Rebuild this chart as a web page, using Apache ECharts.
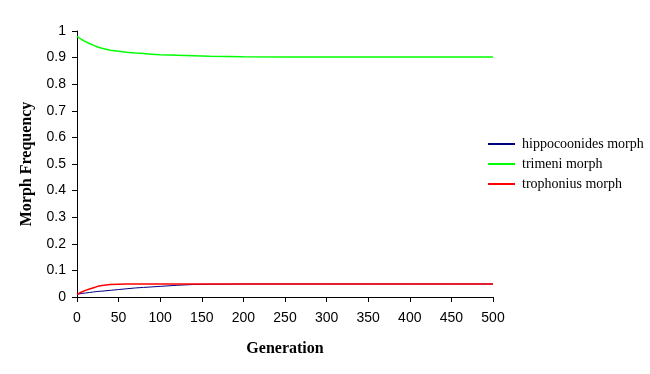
<!DOCTYPE html>
<html><head><meta charset="utf-8">
<script src="https://cdn.jsdelivr.net/npm/echarts@6/dist/echarts.min.js"></script>
<style>html,body{margin:0;padding:0;background:#fff}#c{width:650px;height:374px}</style>
</head><body><div id="c"></div>
<script>
const generations = [0,5,10,15,20,25,30,40,50,60,70,80,90,100,120,140,160,180,200,250,300,350,400,450,500];
const hippocoonides = [0.010,0.013,0.015,0.017,0.019,0.021,0.022,0.025,0.028,0.031,0.034,0.036,0.038,0.040,0.044,0.047,0.048,0.048,0.049,0.049,0.049,0.049,0.049,0.049,0.049];
const trimeni = [0.980,0.969,0.960,0.953,0.946,0.940,0.935,0.928,0.924,0.920,0.917,0.915,0.913,0.911,0.909,0.907,0.905,0.904,0.903,0.902,0.902,0.902,0.902,0.902,0.902];
const trophonius = [0.010,0.018,0.025,0.030,0.035,0.040,0.043,0.047,0.048,0.049,0.049,0.049,0.049,0.049,0.049,0.049,0.049,0.049,0.049,0.049,0.049,0.049,0.049,0.049,0.049];
const seriesNames = ['hippocoonides morph','trimeni morph','trophonius morph'];
const colors = ['#000080','#00ff00','#ff0000'];

const pair = arr => generations.map((g,i)=>[g,arr[i]]);
const chart = echarts.init(document.getElementById('c'));
chart.setOption({
  animation:false,
  backgroundColor:'#fff',
  grid:{left:77,top:31,width:416,height:266,containLabel:false},
  legend:{
    orient:'vertical', left:488, top:137, padding:0, itemWidth:27, itemHeight:2, itemGap:6,
    icon:'rect',
    textStyle:{fontFamily:'Liberation Serif',fontSize:14,color:'#000',padding:[0,0,0,2]},
    data:seriesNames
  },
  xAxis:{
    type:'value', min:0, max:500, interval:50,
    name:'Generation', nameLocation:'middle', nameGap:44,
    nameTextStyle:{fontFamily:'Liberation Serif',fontWeight:'bold',fontSize:16,color:'#000'},
    axisLine:{lineStyle:{color:'#000',width:1}},
    axisTick:{show:true,inside:false,length:5,lineStyle:{color:'#000'}},
    axisLabel:{fontFamily:'Liberation Sans',fontSize:14,color:'#000',margin:14},
    splitLine:{show:false}
  },
  yAxis:{
    type:'value', min:0, max:1, interval:0.1,
    name:'Morph Frequency', nameLocation:'middle', nameGap:42,
    nameTextStyle:{fontFamily:'Liberation Serif',fontWeight:'bold',fontSize:16,color:'#000'},
    axisLine:{show:true,lineStyle:{color:'#000',width:1}},
    axisTick:{show:true,inside:false,length:5,lineStyle:{color:'#000'}},
    axisLabel:{fontFamily:'Liberation Sans',fontSize:14,color:'#000',margin:11,formatter:v=>String(Math.round(v*10)/10)},
    splitLine:{show:false}
  },
  series:[
    {name:seriesNames[0],type:'line',data:pair(hippocoonides),showSymbol:false,symbol:'none',color:colors[0],lineStyle:{width:1,color:colors[0]},z:2},
    {name:seriesNames[1],type:'line',data:pair(trimeni),showSymbol:false,symbol:'none',color:colors[1],lineStyle:{width:1.5,color:colors[1]},z:3},
    {name:seriesNames[2],type:'line',data:pair(trophonius),showSymbol:false,symbol:'none',color:colors[2],lineStyle:{width:1.5,color:colors[2]},z:4}
  ]
});
</script></body></html>
